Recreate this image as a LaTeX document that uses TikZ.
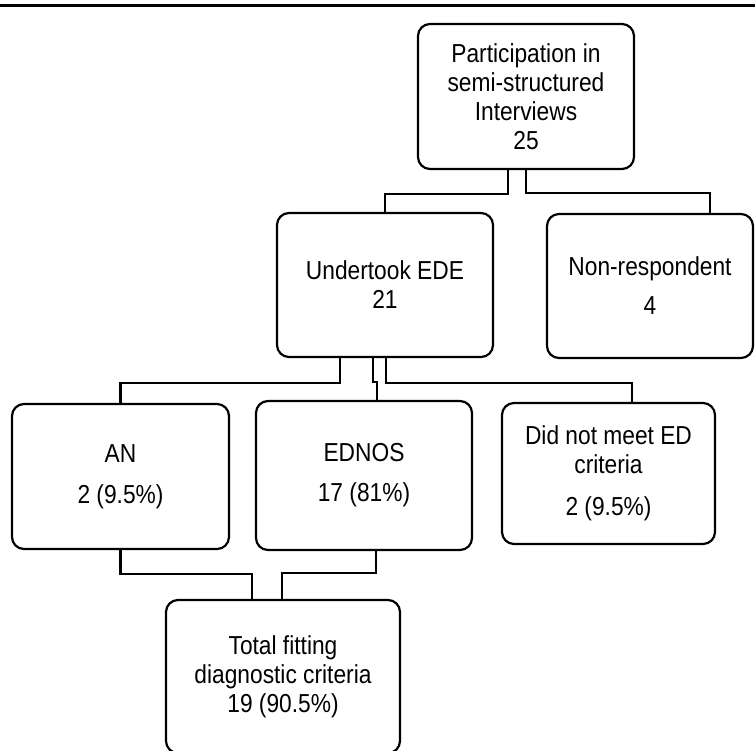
\documentclass[tikz,border=0pt]{standalone}
\usepackage{fontspec}
\setmainfont{Liberation Sans}[FakeStretch=0.875]
\begin{document}
\begin{tikzpicture}[x=1pt,y=-1pt,line width=2.2pt,
  box/.style={draw,rounded corners=12pt,align=center,inner sep=0pt,
    font=\fontsize{26}{29}\selectfont},
  link/.style={draw,line width=2.2pt}]
 \useasboundingbox (0,0) rectangle (755,750);
 \clip (0,0) rectangle (755,750);
 \draw[line width=3pt](0,5.5)--(755,5.5);
 % boxes
 \node[box,minimum width=216pt,minimum height=145pt] (part) at (526,96.5) {Participation in\\semi-structured\\Interviews\\25};
 \node[box,minimum width=216pt,minimum height=144pt] (ede) at (385,285) {Undertook EDE\\21};
 \node[box,minimum width=206pt,minimum height=144pt] (nonresp) at (650,286) {Non-respondent\\[10pt]4};
 \node[box,minimum width=217pt,minimum height=145pt] (an) at (120.5,476.5) {AN\\[12pt]2 (9.5\%)};
 \node[box,minimum width=216pt,minimum height=149pt] (ednos) at (364,475.5) {EDNOS\\[11pt]17 (81\%)};
 \node[box,minimum width=213pt,minimum height=141pt] (nomeet) at (608.5,473.5) {Did not meet ED\\criteria\\[13pt]2 (9.5\%)};
 \node[box,minimum width=234pt,minimum height=153pt] (total) at (283,676.5) {Total fitting\\diagnostic criteria\\19 (90.5\%)};
 % connectors
 \draw[link]([xshift=-18pt]part.south)--++(0,24)-|(ede.north);
 \draw[link](part.south)--++(0,23)-|([xshift=60pt]nonresp.north);
 \draw[link]([xshift=-45pt]ede.south)--++(0,25)-|(an.north);
 \draw[link]([xshift=-12pt]ede.south)--++(0,24)-|([xshift=13pt]ednos.north);
 \draw[link]([xshift=1pt]ede.south)--++(0,25)-|([xshift=23.5pt]nomeet.north);
 \draw[link](an.south)--++(0,24)-|([xshift=-31pt]total.north);
 \draw[link]([xshift=12pt]ednos.south)--++(0,22)-|([xshift=-1pt]total.north);
\end{tikzpicture}
\end{document}
